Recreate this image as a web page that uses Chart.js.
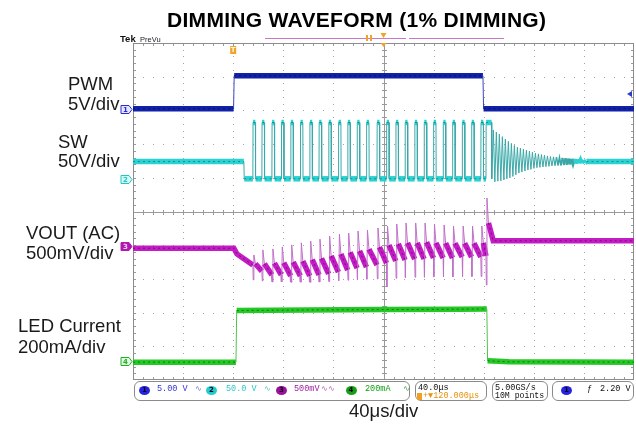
<!doctype html>
<html>

<head>
    <title>Dimming Waveform (1% Dimming)</title>
    <script src="https://cdn.jsdelivr.net/npm/chart.js"></script>
    <style>
    body { margin: 0; background: #fff; }
    #wrap { position: relative; width: 636px; height: 424px; overflow: hidden; font-family: "Liberation Sans", Arial, sans-serif; }
    #scope { position: absolute; left: 0; top: 0; }
    .title { position: absolute; font-weight: bold; font-size: 21px; letter-spacing: 0.3px; line-height: 1; color: #000; white-space: nowrap; }
    .lbl { position: absolute; font-size: 18.5px; line-height: 1; color: #1a1a1a; white-space: nowrap; }
    .box { position: absolute; top: 381px; height: 20px; border: 1px solid #8a8a8a; border-radius: 6px; box-sizing: border-box; }
    .st { position: absolute; font-family: "Liberation Mono", "DejaVu Sans Mono", monospace; font-size: 8.5px; line-height: 1; white-space: nowrap; }
    .chip { position: absolute; top: 386px; width: 11px; height: 9px; border-radius: 50%; text-align: center; font-family: "DejaVu Sans", sans-serif; font-size: 7px; font-weight: bold; line-height: 9px; color: #102; }
    </style>
</head>

<body>
    <div id="wrap">
        <canvas id="scope" width="636" height="424"></canvas>

        <div class="title" style="left:167px;top:8.9px">DIMMING WAVEFORM (1% DIMMING)</div>
        <div class="st" style="left:120px;top:34px;font-family:'Liberation Sans',Arial;font-weight:bold;font-size:9.5px;color:#111">Tek</div>
        <div class="st" style="left:140px;top:35.5px;font-family:'Liberation Sans',Arial;font-size:7.5px;color:#223">PreVu</div>

        <div class="lbl" style="left:68px;top:75.3px">PWM</div>
        <div class="lbl" style="left:68px;top:95.3px">5V/div</div>
        <div class="lbl" style="left:58px;top:132.8px">SW</div>
        <div class="lbl" style="left:58px;top:152.3px">50V/div</div>
        <div class="lbl" style="left:26px;top:224.3px">VOUT (AC)</div>
        <div class="lbl" style="left:26px;top:244.3px">500mV/div</div>
        <div class="lbl" style="left:18px;top:317.3px">LED Current</div>
        <div class="lbl" style="left:18px;top:338.3px">200mA/div</div>
        <div class="lbl" style="left:349px;top:402.3px">40μs/div</div>

        <!-- scope status bar -->
        <div class="box" style="left:134px;width:276px"></div>
        <div class="box" style="left:415px;width:72px"></div>
        <div class="box" style="left:492px;width:56px"></div>
        <div class="box" style="left:552px;width:82px"></div>

        <div class="chip" style="left:139px;background:#2424e0">1</div>
        <div class="st" style="left:157px;top:384.5px;color:#3434d8">5.00 V</div>
        <div class="st" style="left:195px;top:384.5px;color:#6a78d0;font-size:8px">∿</div>
        <div class="chip" style="left:206px;background:#22cccc">2</div>
        <div class="st" style="left:226px;top:384.5px;color:#2ec6c6">50.0 V</div>
        <div class="st" style="left:264px;top:384.5px;color:#5ac0c0;font-size:8px">∿</div>
        <div class="chip" style="left:276px;background:#9a109a">3</div>
        <div class="st" style="left:294px;top:384.5px;color:#a020a0">500mV</div>
        <div class="st" style="left:321px;top:384.5px;color:#b060b0;font-size:8px">∿∿</div>
        <div class="chip" style="left:345.5px;background:#14a014">4</div>
        <div class="st" style="left:365px;top:384.5px;color:#10a010">200mA</div>
        <div class="st" style="left:403px;top:384.5px;color:#40a040;font-size:8px">∿</div>

        <div class="st" style="left:418px;top:383.6px;color:#111">40.0μs</div>
        <div class="st" style="left:417px;top:393px;width:5px;height:7px;background:#f0a020"></div>
        <div class="st" style="left:423px;top:392px;color:#e8900c">+▼120.000μs</div>

        <div class="st" style="left:495px;top:383.6px;color:#111">5.00GS/s</div>
        <div class="st" style="left:495px;top:392px;color:#111;font-size:8.2px">10M points</div>

        <div class="chip" style="left:561px;background:#2424e0">1</div>
        <div class="st" style="left:587px;top:384.5px;color:#111">ƒ</div>
        <div class="st" style="left:600px;top:384.5px;color:#111">2.20 V</div>
    </div>

    <script>
    // time in µs (40 µs/div, 10 div across), levels in screen divisions (0..10 from the bottom)
    var pwmTime  = [0, 80.3, 80.8, 279.4, 279.9, 400];
    var pwmLevel = [8.05, 8.05, 9.03, 9.03, 8.05, 8.05];

    var ledTime  = [0, 82.2, 82.8, 140, 200, 260, 282.5, 283.1, 300, 400];
    var ledLevel = [0.53, 0.53, 2.06, 2.08, 2.09, 2.10, 2.11, 0.57, 0.54, 0.53];

    // SW node: idle, switching low, pulse top
    var swIdle = 6.48, swLow = 5.97, swHigh = 7.64;
    var swDropTime = 88.5;
    var swPulseStart = [95.7, 102.9, 110.9, 118.4, 125.9, 133.6, 141.1, 148.5, 156.2, 164.0, 171.4, 178.9, 186.4,
                        194.8, 202.4, 209.8, 217.2, 224.9, 232.4, 239.9, 247.6, 255.1, 262.8, 270.3, 277.7, 281.8];
    var swPulseWidth = [2.0, 2.0, 2.0, 2.0, 2.0, 2.0, 2.0, 2.0, 2.0, 2.0, 2.0, 2.0, 2.0,
                        2.0, 2.0, 2.0, 2.0, 2.0, 2.0, 2.0, 2.0, 2.0, 2.0, 2.0, 2.0, 4.5];
    // ringing after the last pulse, one high/low pair per cycle
    var swRingStart = 287.7, swRingHalf = 1.2;
    var swRingHigh = [7.42, 7.36, 7.30, 7.22, 7.15, 7.08, 7.02, 6.96, 6.91, 6.88, 6.85, 6.82, 6.79, 6.76, 6.73, 6.71,
                      6.69, 6.67, 6.65, 6.63, 6.62, 6.61, 6.60, 6.59, 6.58, 6.57, 6.56, 6.56, 6.55, 6.54, 6.53];
    var swRingLow  = [5.88, 5.90, 5.91, 5.94, 5.97, 6.00, 6.04, 6.09, 6.14, 6.17, 6.20, 6.23, 6.25, 6.28, 6.30, 6.31,
                      6.32, 6.33, 6.34, 6.35, 6.36, 6.37, 6.37, 6.38, 6.39, 6.40, 6.41, 6.42, 6.43, 6.43, 6.44];

    // VOUT (AC): one entry per switching cycle
    var voutBefore = 3.91, voutAfter = 4.13, voutSettleTime = 287.6;
    var voutDropTime  = [80.5, 83.0];
    var voutDropLevel = [3.91, 3.74];
    var voutTrough   = [3.41, 3.23, 3.12, 3.12, 3.09, 3.09, 3.09, 3.12, 3.15, 3.20, 3.26, 3.32, 3.35,
                        3.41, 3.47, 3.53, 3.56, 3.59, 3.59, 3.62, 3.62, 3.62, 3.65, 3.65, 3.65, 3.68];
    var voutSpikeLow = [2.97, 2.94, 2.91, 2.91, 2.90, 2.90, 2.90, 2.91, 2.92, 2.94, 2.96, 2.98, 2.99,
                        3.00, 2.76, 3.02, 3.04, 3.05, 3.05, 3.06, 3.06, 3.06, 3.07, 3.07, 3.07, 2.82];
    var voutPeak     = [3.71, 3.86, 3.89, 3.95, 4.01, 4.07, 4.12, 4.18, 4.27, 4.33, 4.36, 4.42, 4.45,
                        4.51, 4.57, 4.63, 4.66, 4.66, 4.66, 4.63, 4.60, 4.57, 4.57, 4.57, 4.57, 5.40];
    var voutKnee     = [3.45, 3.45, 3.47, 3.48, 3.50, 3.53, 3.57, 3.61, 3.68, 3.74, 3.79, 3.83, 3.88,
                        3.94, 4.00, 4.04, 4.07, 4.07, 4.09, 4.07, 4.06, 4.06, 4.06, 4.06, 4.07, 4.66];

    // channel ground markers (1..4), trigger time and trigger level
    var chLevel = [8.05, 5.97, 3.98, 0.56];
    var trigTime = 80, trigLevel = 8.49;

    // ---- build point lists ----
    function pairs(t, v) {
        return t.map(function(x, i) { return {x: x, y: v[i]}; });
    }

    var pwmPts = pairs(pwmTime, pwmLevel);
    var ledPts = pairs(ledTime, ledLevel);

    var swPts = [{x: 0, y: swIdle}, {x: swDropTime, y: swIdle}, {x: swDropTime + 0.3, y: swLow}];
    swPulseStart.forEach(function(t, i) {
        var w = swPulseWidth[i];
        swPts.push({x: t, y: swLow}, {x: t + 0.15, y: swHigh}, {x: t + w, y: swHigh}, {x: t + w + 0.15, y: swLow});
    });
    swRingHigh.forEach(function(h, i) {
        var t = swRingStart + i * 2 * swRingHalf;
        swPts.push({x: t, y: h}, {x: t + swRingHalf, y: swRingLow[i]});
    });
    swPts.push({x: swRingStart + swRingHigh.length * 2 * swRingHalf, y: swIdle}, {x: 400, y: swIdle});

    var voutPts = [{x: 0, y: voutBefore}, {x: voutDropTime[0], y: voutDropLevel[0]}, {x: voutDropTime[1], y: voutDropLevel[1]}];
    swPulseStart.forEach(function(t, i) {
        voutPts.push({x: t, y: voutTrough[i]}, {x: t + 0.3, y: voutSpikeLow[i]},
                     {x: t + 0.8, y: voutPeak[i]}, {x: t + 2.0, y: voutKnee[i]});
    });
    voutPts.push({x: voutSettleTime, y: voutAfter}, {x: 400, y: voutAfter});

    // ---- styling ----
    // fast edges, spikes and ringing are drawn thin, slow parts as the thick persistence band
    function fast(c) {
        return Math.abs(c.p1.x - c.p0.x) < 2;
    }

    function segWidth(c, width) {
        if (!fast(c)) return width;
        // small fast swings blur into the band, big ones stay hairlines
        return Math.max(1, Math.min(width - 1, width - Math.abs(c.p1.y - c.p0.y) / 2));
    }

    function trace(points, color, edge, width) {
        return {
            data: points,
            borderColor: color,
            borderWidth: width,
            pointRadius: 0,
            tension: 0,
            segment: {
                borderWidth: function(c) { return segWidth(c, width); },
                borderColor: function(c) { return segWidth(c, width) < 3 ? edge : color; }
            }
        };
    }

    // darker noisy core drawn over the slow parts of each trace
    function core(points, color) {
        return {
            data: points,
            borderColor: color,
            borderWidth: 1,
            borderDash: [2, 3],
            pointRadius: 0,
            tension: 0,
            segment: {
                borderColor: function(c) { return fast(c) ? 'rgba(0,0,0,0)' : color; }
            }
        };
    }

    var graticule = {
        id: 'graticule',
        beforeDatasetsDraw: function(chart) {
            var ctx = chart.ctx, a = chart.chartArea, xs = chart.scales.x, ys = chart.scales.y;
            var i, k, px, py;
            ctx.save();
            ctx.fillStyle = '#a4a4a4';
            for (i = 1; i < 10; i++) {
                if (i === 5) continue;
                py = Math.round(ys.getPixelForValue(i));
                for (k = 1; k < 50; k++) {
                    px = Math.round(xs.getPixelForValue(k * 8));
                    ctx.fillRect(px, py, 1, 1);
                }
                px = Math.round(xs.getPixelForValue(i * 40));
                for (k = 1; k < 50; k++) {
                    py = Math.round(ys.getPixelForValue(k * 0.2));
                    ctx.fillRect(px, py, 1, 1);
                }
            }
            ctx.strokeStyle = '#9a9a9a';
            ctx.lineWidth = 1;
            var cx = Math.round(xs.getPixelForValue(200)) + 0.5;
            var cy = Math.round(ys.getPixelForValue(5)) + 0.5;
            ctx.beginPath();
            ctx.moveTo(a.left, cy); ctx.lineTo(a.right, cy);
            ctx.moveTo(cx, a.top); ctx.lineTo(cx, a.bottom);
            for (k = 1; k < 50; k++) {
                px = Math.round(xs.getPixelForValue(k * 8)) + 0.5;
                ctx.moveTo(px, cy - 2.5); ctx.lineTo(px, cy + 2.5);
                ctx.moveTo(px, a.top); ctx.lineTo(px, a.top + 3);
                ctx.moveTo(px, a.bottom); ctx.lineTo(px, a.bottom - 3);
                py = Math.round(ys.getPixelForValue(k * 0.2)) + 0.5;
                ctx.moveTo(cx - 2.5, py); ctx.lineTo(cx + 2.5, py);
                ctx.moveTo(a.left, py); ctx.lineTo(a.left + 3, py);
                ctx.moveTo(a.right, py); ctx.lineTo(a.right - 3, py);
            }
            ctx.stroke();
            ctx.strokeStyle = '#8c8c8c';
            ctx.strokeRect(a.left + 0.5, a.top + 0.5, a.right - a.left - 1, a.bottom - a.top - 1);
            ctx.restore();
        },
        afterDatasetsDraw: function(chart) {
            var ctx = chart.ctx, a = chart.chartArea, xs = chart.scales.x, ys = chart.scales.y;
            var colors = ['#2a2ad0', '#22c4c4', '#b018b0', '#22b022'];
            var fills = ['#e4e6ff', '#d8f8f8', '#b018b0', '#e0f8e0'];
            ctx.save();
            ctx.font = 'bold 7px "DejaVu Sans", sans-serif';
            ctx.textAlign = 'center';
            ctx.textBaseline = 'middle';
            chLevel.forEach(function(v, i) {
                var py = Math.round(ys.getPixelForValue(v)) + 0.5;
                var l = a.left - 12;
                ctx.beginPath();
                ctx.moveTo(l, py - 4); ctx.lineTo(l + 8, py - 4); ctx.lineTo(l + 11, py);
                ctx.lineTo(l + 8, py + 4); ctx.lineTo(l, py + 4); ctx.closePath();
                ctx.fillStyle = fills[i];
                ctx.fill();
                ctx.strokeStyle = colors[i];
                ctx.lineWidth = 1;
                ctx.stroke();
                ctx.fillStyle = i === 2 ? '#f0d0f0' : colors[i];
                ctx.fillText(String(i + 1), l + 4.5, py + 0.5);
            });

            // trigger position marker
            var tx = xs.getPixelForValue(trigTime);
            ctx.fillStyle = '#f0a428';
            ctx.fillRect(tx - 3, a.top + 3, 6, 8);
            ctx.fillStyle = '#fff6e0';
            ctx.fillText('T', tx, a.top + 7.5);

            // trigger level marker on the right edge
            var ty = ys.getPixelForValue(trigLevel);
            ctx.fillStyle = '#2a3ad0';
            ctx.beginPath();
            ctx.moveTo(a.right - 2, ty - 3); ctx.lineTo(a.right - 7, ty); ctx.lineTo(a.right - 2, ty + 3);
            ctx.closePath();
            ctx.fill();

            // record view bar above the graticule
            ctx.strokeStyle = '#c878c8';
            ctx.beginPath();
            ctx.moveTo(265, 38.5); ctx.lineTo(406, 38.5);
            ctx.moveTo(409, 38.5); ctx.lineTo(504, 38.5);
            ctx.stroke();
            ctx.fillStyle = '#f0a428';
            ctx.fillRect(366, 35, 2, 6);
            ctx.fillRect(370, 35, 2, 6);
            var cxp = xs.getPixelForValue(200);
            ctx.beginPath();
            ctx.moveTo(cxp - 3, 33); ctx.lineTo(cxp + 3, 33); ctx.lineTo(cxp, 38); ctx.closePath();
            ctx.moveTo(cxp - 3, a.top); ctx.lineTo(cxp + 3, a.top); ctx.lineTo(cxp, a.top + 4); ctx.closePath();
            ctx.fill();
            ctx.restore();
        }
    };

    window.onload = function() {
        var ctx = document.getElementById('scope').getContext('2d');
        new Chart(ctx, {
            type: 'line',
            data: {
                datasets: [
                    core(pwmPts, '#07106a'),
                    core(swPts, '#168a8a'),
                    core(voutPts, '#7a0a7a'),
                    core(ledPts, '#0c7a0c'),
                    trace(pwmPts, '#1222a8', '#3846c0', 5.5),
                    trace(swPts, '#2cd2d2', '#3aa8a8', 5.5),
                    trace(voutPts, '#c41cc4', '#c070c8', 5.5),
                    trace(ledPts, '#26c826', '#4cc44c', 5.5)
                ]
            },
            options: {
                responsive: false,
                animation: false,
                devicePixelRatio: 1,
                events: [],
                layout: { padding: { left: 133, right: 2, top: 43, bottom: 44 } },
                scales: {
                    x: { type: 'linear', min: 0, max: 400, display: false },
                    y: { type: 'linear', min: 0, max: 10, display: false }
                },
                plugins: {
                    legend: { display: false },
                    tooltip: { enabled: false }
                }
            },
            plugins: [graticule]
        });
    };
    </script>
</body>

</html>
